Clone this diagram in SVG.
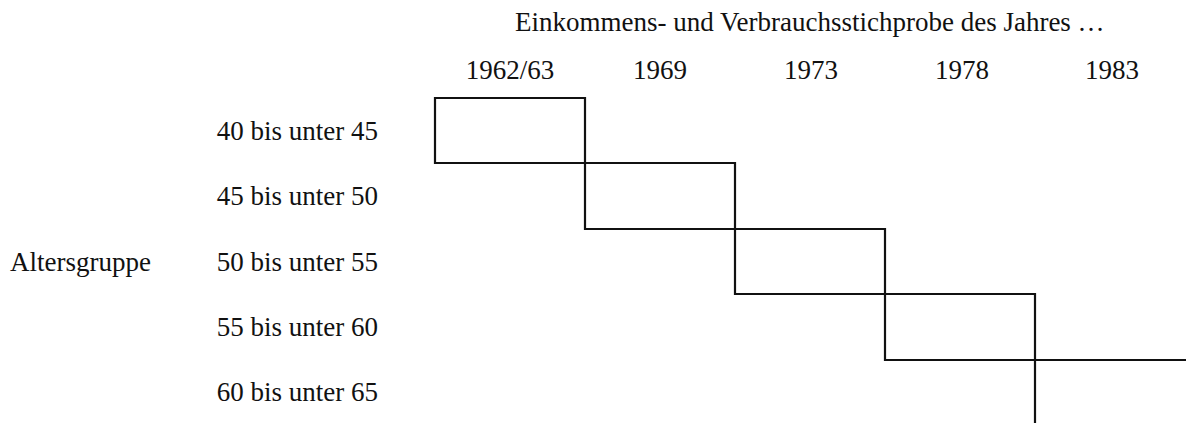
<svg xmlns="http://www.w3.org/2000/svg" width="1186" height="423" viewBox="0 0 1186 423">
<style>
text{font-family:"Liberation Serif","Times New Roman",serif;font-size:27px;fill:#111}
.r{text-anchor:end}
.m{text-anchor:middle}
.ln{stroke:#111;stroke-width:2.2;fill:none;stroke-linecap:square}
</style>
<rect width="1186" height="423" fill="#fff"/>
<g id="header">
<text x="515" y="31">Einkommens- und Verbrauchsstichprobe des Jahres …</text>
</g>
<g id="years">
<text class="m" x="510" y="79">1962/63</text>
<text class="m" x="660" y="79">1969</text>
<text class="m" x="811" y="79">1973</text>
<text class="m" x="962" y="79">1978</text>
<text class="m" x="1112" y="79">1983</text>
</g>
<g id="ages">
<text class="r" x="378" y="140">40 bis unter 45</text>
<text class="r" x="378" y="205">45 bis unter 50</text>
<text class="r" x="378" y="271">50 bis unter 55</text>
<text class="r" x="378" y="336">55 bis unter 60</text>
<text class="r" x="378" y="401">60 bis unter 65</text>
</g>
<g id="group-label">
<text x="10" y="271">Altersgruppe</text>
</g>
<g id="connectors">
<path class="ln" d="M435,98 H585 M435,98 V163 M435,163 H735 M585,98 V229 M585,229 H885 M735,163 V294 M735,294 H1035 M885,229 V360 M885,360 H1186 M1035,294 V423"/>
</g>
</svg>
